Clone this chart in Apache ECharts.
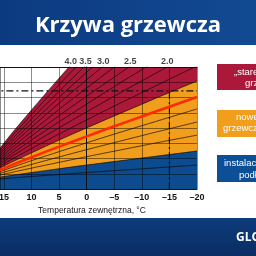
<!DOCTYPE html>
<html><head><meta charset="utf-8">
<script src="https://cdn.jsdelivr.net/npm/echarts@6/dist/echarts.min.js"></script>
<style>html,body{margin:0;padding:0;width:256px;height:256px;overflow:hidden;background:#fff}#c{width:256px;height:256px}</style>
</head><body><div id="c"></div>
<script>
// outdoor temperature (°C) sample points
const outdoor = [20, 15, 10, 5, 0, -5, -10, -15, -20];
// supply temperature (°C) of each heating curve at those points
const k02 = [25.2, 26.8, 28.2, 29.5, 30.8, 32.0, 33.2, 34.5, 35.7];
const k04 = [25.2, 28.2, 30.8, 33.3, 35.7, 38.0, 40.3, 42.6, 44.9];
const k06 = [25.2, 29.7, 33.7, 37.5, 41.2, 44.8, 48.4, 51.9, 55.3];
const k08 = [25.2, 31.0, 36.1, 41.0, 45.8, 50.4, 55.0, 59.5, 63.9];
const k10 = [25.2, 32.3, 38.6, 44.5, 50.3, 56.0, 61.5, 67.0, 72.5];
const k12 = [25.2, 33.5, 40.8, 47.8, 54.5, 61.1, 67.6, 74.0, 80.3];
const k15 = [25.2, 35.1, 43.7, 52.1, 60.1, 67.9, 75.6, 83.3, 90.8];
const k175 = [25.2, 36.6, 46.5, 56.1, 65.3, 74.4, 83.2, 92.0, 100.7];
const k20 = [25.2, 38.1, 49.4, 60.2, 70.6, 80.9, 90.9, 100.8, 110.6];
const k225 = [25.2, 39.5, 52.1, 64.1, 75.7, 87.2, 98.3, 109.3, 120.3];
const k25 = [25.2, 41.0, 54.8, 68.1, 80.9, 93.4, 105.7, 117.9, 129.9];
const k275 = [25.2, 42.5, 57.6, 72.2, 86.2, 100.0, 113.4, 126.8, 140.0];
const k30 = [25.2, 44.0, 60.5, 76.3, 91.6, 106.5, 121.1, 135.7, 150.0];
const k325 = [25.2, 45.4, 63.2, 80.2, 96.6, 112.7, 128.5, 144.1, 159.5];
const k35 = [25.2, 46.9, 65.9, 84.1, 101.7, 118.9, 135.8, 152.5, 169.0];
const k375 = [25.2, 48.5, 68.8, 88.4, 107.2, 125.7, 143.8, 161.7, 179.5];
const k40 = [25.2, 50.1, 71.8, 92.7, 112.9, 132.6, 151.9, 171.1, 190.1];
// curve labels
const rightLabels = { k02: '0,2', k06: '0,6', k10: '1,0', k12: '1,2', k15: '1,5' };
const topLabelText = ['4.0', '3.5', '3.0', '2.5', '2.0'];
const topLabelAt = [2.9, 0.2, -3.0, -7.9, -14.6];
// design lines
const maxSupply = 84.3;
const designOutdoor = -15;
const xTickLabels = [15, 10, 5, 0, -5, -10, -15, -20];

const curves = { k02, k04, k06, k08, k10, k12, k15, k175, k20, k225, k25, k275, k30, k325, k35, k375, k40 };
const pts = a => outdoor.map((x, i) => [x, a[i]]);

const series = [];
const area = (data, color, z) => ({
  type: 'line', data: pts(data), smooth: 0.3, symbol: 'none', silent: true, z,
  lineStyle: { width: 0 }, areaStyle: { color, opacity: 1 }
});
series.push(area(k40, '#ab1839', 1));
series.push(area(k15, '#f09e1c', 2));
series.push(area(k04, '#0c4b8e', 3));

Object.keys(curves).forEach(name => {
  const isRed = name === 'k12';
  const s = {
    type: 'line', data: pts(curves[name]), smooth: 0.3, symbol: 'none', silent: true,
    z: isRed ? 7 : 5,
    lineStyle: { color: isRed ? '#ff2a00' : 'rgba(15,8,8,0.9)', width: isRed ? 2.6 : 0.75 }
  };
  if (rightLabels[name]) {
    s.endLabel = { show: true, formatter: rightLabels[name], fontSize: 9, fontWeight: 'bold',
      color: '#151515', distance: 3, fontFamily: 'Liberation Sans' };
  }
  series.push(s);
});

series.push({
  type: 'line', data: [[20, maxSupply], [-20, maxSupply]], symbol: 'none', silent: true, z: 6,
  lineStyle: { color: '#111', width: 1.2, type: [7, 3, 2, 3] }
});
series.push({
  type: 'line', data: [[designOutdoor, 20], [designOutdoor, maxSupply]], symbol: 'none', silent: true, z: 6,
  lineStyle: { color: '#111', width: 1.2, type: [7, 3, 2, 3] }
});
series.push({
  type: 'scatter', clip: false, silent: true, symbolSize: 0, z: 8,
  data: topLabelAt.map((x, i) => ({ value: [x, 100], name: topLabelText[i] })),
  label: { show: true, position: 'top', distance: 1, formatter: p => p.name, fontSize: 9,
    fontWeight: 'bold', color: '#151515', fontFamily: 'Liberation Sans' }
});

const axisLineStyle = { show: true, lineStyle: { color: '#111', width: 1 } };
const option = {
  animation: false,
  backgroundColor: '#ffffff',
  grid: { left: 0, right: 59, top: 67, bottom: 67, containLabel: false, outerBoundsMode: 'none' },
  xAxis: [{
    type: 'value', min: -20, max: 15.72, interval: 5, inverse: true, z: 4,
    axisLine: axisLineStyle, axisTick: { show: false },
    splitLine: { show: true, lineStyle: { color: 'rgba(0,0,0,0.45)', width: 1 } },
    axisLabel: { fontSize: 9, fontWeight: 'bold', color: '#151515', margin: 4, fontFamily: 'Liberation Sans',
      showMinLabel: true, showMaxLabel: false,
      formatter: v => xTickLabels.indexOf(v) < 0 ? '' : (v < 0 ? '\u2013' + (-v) : String(v)) }
  }, {
    type: 'value', min: -20, max: 15.72, inverse: true, position: 'top', z: 4,
    axisLine: axisLineStyle, axisTick: { show: false }, axisLabel: { show: false }, splitLine: { show: false }
  }],
  yAxis: [{
    type: 'value', min: 20, max: 100, interval: 10, z: 4,
    axisLine: { show: false }, axisTick: { show: false }, axisLabel: { show: false },
    splitLine: { show: true, lineStyle: { color: 'rgba(0,0,0,0.45)', width: 1 } }
  }, {
    type: 'value', min: 20, max: 100, position: 'right', z: 4,
    axisLine: axisLineStyle, axisTick: { show: false }, axisLabel: { show: false }, splitLine: { show: false }
  }],
  series,
  graphic: [
    { type: 'rect', z: -10, shape: { x: 0, y: 0, width: 256, height: 45 },
      style: { fill: new echarts.graphic.LinearGradient(0, 0, 1, 0, [{ offset: 0, color: '#0c3a80' }, { offset: 1, color: '#124a92' }]) } },
    { type: 'text', z: 10, x: 128, y: 26, style: { text: 'Krzywa grzewcza', fill: '#fff', font: 'bold 22px "Open Sans"', textAlign: 'center', textVerticalAlign: 'middle' } },
    { type: 'rect', z: -10, shape: { x: 0, y: 218, width: 256, height: 38 },
      style: { fill: new echarts.graphic.LinearGradient(0, 0, 0, 1, [{ offset: 0, color: '#0d3c7c' }, { offset: 1, color: '#0a2d63' }]) } },
    { type: 'text', z: 10, x: 236, y: 238, style: { text: 'GLOBENERGIA', fill: '#fff', font: 'bold 12px "Open Sans"', textVerticalAlign: 'middle' } },
    { type: 'text', z: 10, x: 92, y: 211, style: { text: 'Temperatura zewnętrzna, °C', fill: '#151515', font: '8.5px "Liberation Sans"', textAlign: 'center', textVerticalAlign: 'middle' } },
    { type: 'rect', z: 10, shape: { x: 217, y: 64, width: 60, height: 26 }, style: { fill: '#ab1839' } },
    { type: 'text', z: 11, x: 234, y: 72, style: { text: '„stare instalacje', fill: '#fff', font: '9.5px "Liberation Sans"', textVerticalAlign: 'middle' } },
    { type: 'text', z: 11, x: 245, y: 83, style: { text: 'grzejnikowe”', fill: '#fff', font: '9.5px "Liberation Sans"', textVerticalAlign: 'middle' } },
    { type: 'rect', z: 10, shape: { x: 217, y: 110, width: 60, height: 27 }, style: { fill: '#f09e1c' } },
    { type: 'text', z: 11, x: 236, y: 117, style: { text: 'nowe', fill: '#fff', font: '9.5px "Liberation Sans"', textVerticalAlign: 'middle' } },
    { type: 'text', z: 11, x: 223, y: 128, style: { text: 'grzewcze', fill: '#fff', font: '9.5px "Liberation Sans"', textVerticalAlign: 'middle' } },
    { type: 'rect', z: 10, shape: { x: 217, y: 155, width: 60, height: 27 }, style: { fill: '#0d4f96' } },
    { type: 'text', z: 11, x: 224, y: 163, style: { text: 'instalacje', fill: '#fff', font: '9.5px "Liberation Sans"', textVerticalAlign: 'middle' } },
    { type: 'text', z: 11, x: 239, y: 175, style: { text: 'podłogowe', fill: '#fff', font: '9.5px "Liberation Sans"', textVerticalAlign: 'middle' } }
  ]
};
echarts.init(document.getElementById('c')).setOption(option);
</script></body></html>
